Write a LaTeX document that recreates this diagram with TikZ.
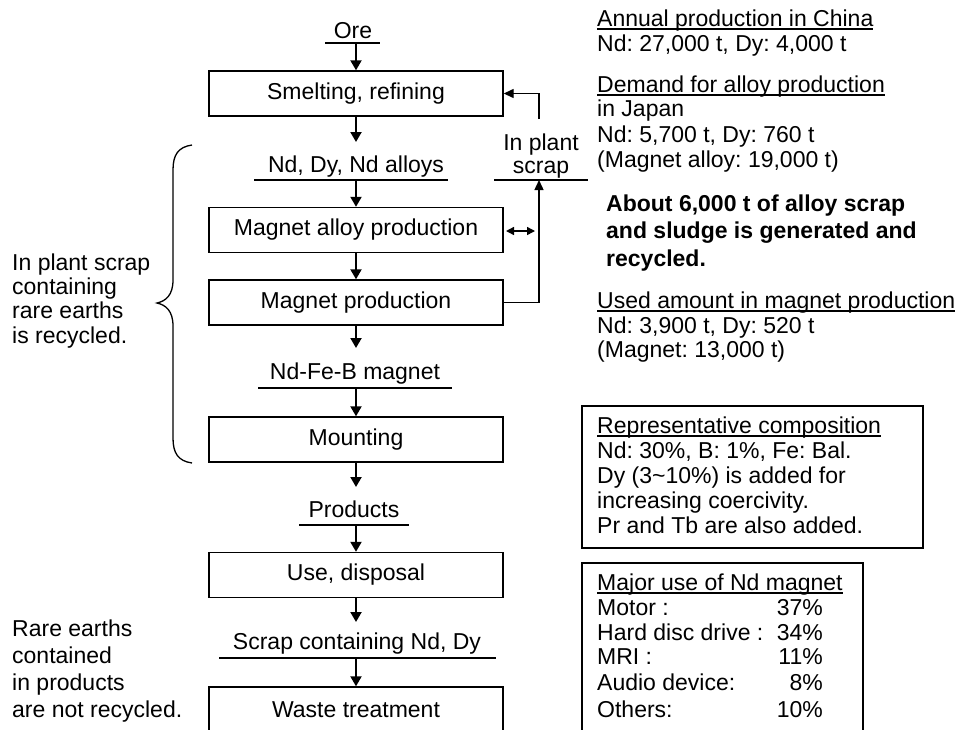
\documentclass[tikz,border=0pt]{standalone}
\usepackage{fontspec}
\setmainfont{Liberation Sans}
\usetikzlibrary{arrows.meta}
\newcommand\myul[1]{\setbox0\hbox{#1}\rlap{\rule[-3.5pt]{\wd0}{1.2pt}}\box0}
\frenchspacing
\begin{document}
\begin{tikzpicture}[x=1pt,y=-1pt,font=\fontsize{23}{25}\selectfont\frenchspacing,
  box/.style={draw,line width=1.4pt,minimum width=294pt,minimum height=45pt,inner sep=0pt},
  lbl/.style={anchor=base,inner sep=0pt},
  txt/.style={anchor=base west,inner sep=0pt},
  rtxt/.style={anchor=base east,inner sep=0pt},
  arr/.style={line width=2pt,-{Triangle[length=10pt,width=11pt]}},
  sarr/.style={line width=1.4pt,-{Triangle[length=10pt,width=9pt]}},
  darr/.style={line width=1.4pt,{Triangle[length=8pt,width=8pt]}-{Triangle[length=8pt,width=8pt]}},
  uline/.style={line width=1.4pt},
  frame/.style={draw,line width=1.4pt}]
\useasboundingbox (0,0) rectangle (964,729);

% main boxes
\node[box] (smelt) at (356,93.5) {Smelting, refining};
\node[box] (alloy) at (356,230) {Magnet alloy production};
\node[box] (magprod) at (356,302.5) {Magnet production};
\node[box] (mount) at (356,439.5) {Mounting};
\node[box] (use) at (356,575) {Use, disposal};
\node[box] (waste) at (356,709.5) {Waste treatment};

% labels with underlines
\node[lbl] (ore) at (353,38) {Ore};
\draw[uline] (325,43) -- (380,43);
\coordinate (oreL) at (356,43);
\draw[arr] (oreL) -- (smelt.north);

\coordinate (a1) at (356,142);
\draw[arr] (smelt.south) -- (a1);
\node[lbl] (nd) at (356,172) {Nd, Dy, Nd alloys};
\draw[uline] (254,180) -- (448,180);
\coordinate (ndL) at (356,180);
\draw[arr] (ndL) -- (alloy.north);

\draw[arr] (alloy.south) -- (magprod.north);

\coordinate (a2) at (356,348);
\draw[arr] (magprod.south) -- (a2);
\node[lbl] (ndfeb) at (355,379) {Nd-Fe-B magnet};
\draw[uline] (258,388) -- (452,388);
\coordinate (ndfebL) at (356,388);
\draw[arr] (ndfebL) -- (mount.north);

\coordinate (a3) at (356,487);
\draw[arr] (mount.south) -- (a3);
\node[lbl] (prod) at (354,517) {Products};
\draw[uline] (299,525) -- (409,525);
\coordinate (prodL) at (356,525);
\draw[arr] (prodL) -- (use.north);

\coordinate (a4) at (356,622);
\draw[arr] (use.south) -- (a4);
\node[lbl] (scrapnd) at (357,649) {Scrap containing Nd, Dy};
\draw[uline] (219,658) -- (496,658);
\coordinate (scrapndL) at (356,658);
\draw[arr] (scrapndL) -- (waste.north);

% in plant scrap loop
\node[lbl] (inplant) at (541,150) {In plant};
\node[lbl] (scrap) at (541,173) {scrap};
\draw[uline] (494,180) -- (588,180);
\coordinate (scrL) at (539,180);
\coordinate (scrTop) at (539,119);
\draw[sarr] (magprod.east) -| (scrL);
\draw[sarr] (scrTop) |- (smelt.east);
\coordinate (da1) at (506,231);
\coordinate (da2) at (535,231);
\draw[darr] (da1) -- (da2);

% brace
\draw[line width=1.3pt] (192,145) .. controls (178,147) and (173,155) .. (173,170)
  -- (173,280) .. controls (173,295) and (166,301) .. (157,303)
  .. controls (166,305) and (173,311) .. (173,326)
  -- (173,438) .. controls (173,453) and (178,461) .. (192,463);

% left texts
\node[txt] (l1) at (12,270) {In plant scrap};
\node[txt] (l2) at (12,294) {containing};
\node[txt] (l3) at (12,318) {rare earths};
\node[txt] (l4) at (12,343) {is recycled.};

\node[txt] (b1) at (12,636) {Rare earths};
\node[txt] (b2) at (12,663) {contained};
\node[txt] (b3) at (12,690) {in products};
\node[txt] (b4) at (12,717) {are not recycled.};

% right texts
\node[txt] (r1) at (597,26) {\myul{Annual production in China}};
\node[txt] (r2) at (597,51) {Nd: 27,000 t, Dy: 4,000 t};
\node[txt] (r3) at (597,92) {\myul{Demand for alloy production}};
\node[txt] (r4) at (597,116) {in Japan};
\node[txt] (r5) at (597,142) {Nd: 5,700 t, Dy: 760 t};
\node[txt] (r6) at (597,167) {(Magnet alloy: 19,000 t)};
\node[txt,font=\fontsize{23}{25}\selectfont\bfseries] (r7) at (606,211) {About 6,000 t of alloy scrap};
\node[txt,font=\fontsize{23}{25}\selectfont\bfseries] (r8) at (606,238) {and sludge is generated and};
\node[txt,font=\fontsize{23}{25}\selectfont\bfseries] (r9) at (606,266) {recycled.};
\node[txt] (r10) at (597,308) {\myul{Used amount in magnet production}};
\node[txt] (r11) at (597,333) {Nd: 3,900 t, Dy: 520 t};
\node[txt] (r12) at (597,357) {(Magnet: 13,000 t)};

% composition box
\draw[frame] (582,406) rectangle (923,548);
\node[txt] (c1) at (597,433) {\myul{Representative composition}};
\node[txt] (c2) at (597,458) {Nd: 30\%, B: 1\%, Fe: Bal.};
\node[txt] (c3) at (597,483) {Dy (3\textasciitilde10\%) is added for};
\node[txt] (c4) at (597,508) {increasing coercivity.};
\node[txt] (c5) at (597,533) {Pr and Tb are also added.};

% major use box
\draw[frame] (582,740) -- (582,563) -- (863,563) -- (863,740);
\node[txt] (m0) at (597,590) {\myul{Major use of Nd magnet}};
\node[txt] (m1) at (597,615) {Motor :};
\node[rtxt] (p1) at (823,615) {37\%};
\node[txt] (m2) at (597,640) {Hard disc drive :};
\node[rtxt] (p2) at (823,640) {34\%};
\node[txt] (m3) at (597,664) {MRI :};
\node[rtxt] (p3) at (823,664) {11\%};
\node[txt] (m4) at (597,690) {Audio device:};
\node[rtxt] (p4) at (823,690) {8\%};
\node[txt] (m5) at (597,717) {Others:};
\node[rtxt] (p5) at (823,717) {10\%};
\end{tikzpicture}
\end{document}
